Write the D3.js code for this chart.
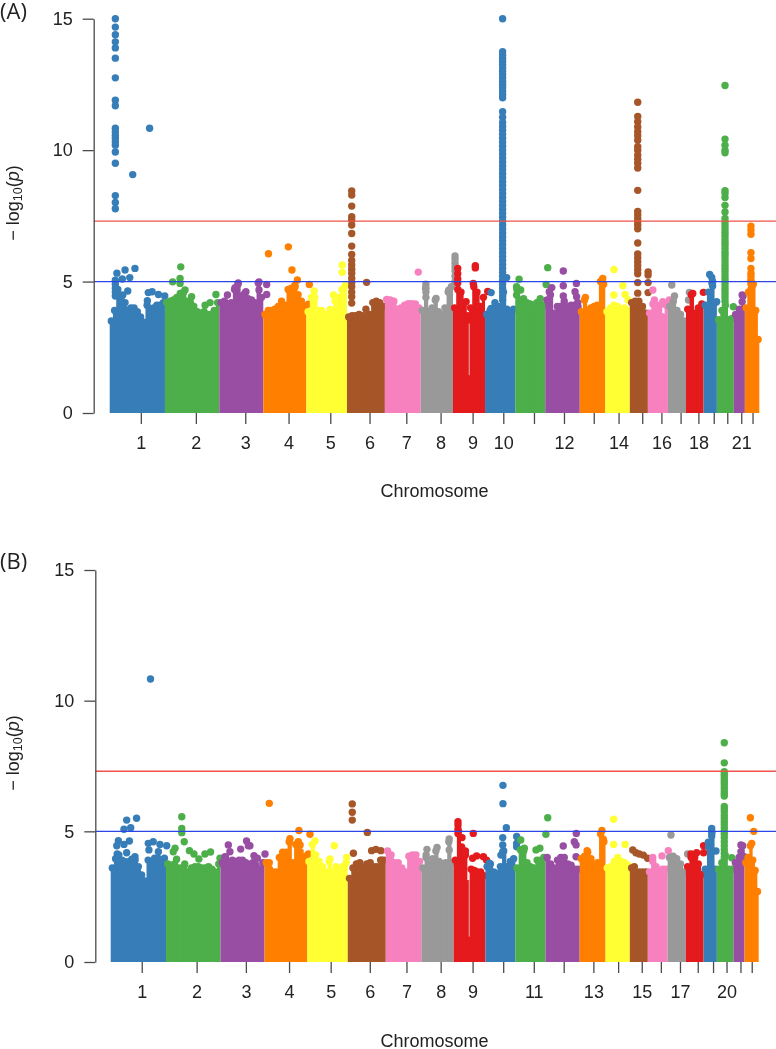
<!DOCTYPE html>
<html><head><meta charset="utf-8">
<script src="https://d3js.org/d3.v7.min.js"></script>
<style>html,body{margin:0;padding:0;background:#fff}svg{display:block;filter:blur(0.3px)}</style>
</head><body><svg id="c" width="776" height="1049"></svg>
<script>
const chromosomes = d3.range(1, 23);
const palette = ["#377EB8","#4DAF4A","#984EA3","#FF7F00","#FFFF33","#A65628","#F781BF","#999999","#E41A1C"];
const yTicks = [0, 5, 10, 15];
const genomeWide = 7.3, suggestive = 5;
const tickMb = [138,382,601,793,978,1152,1315,1467,1609,1745,1881,2014,2146,2256,2361,2446,2531,2610,2678,2738,2800,2850];
const labelledA = [1,2,3,4,5,6,7,8,9,10,12,14,16,18,21];
const labelledB = [1,2,3,4,5,6,7,8,9,11,13,15,17,20];
const edgesA = [0,245,486,681,872,1052,1220,1379,1522,1664,1798,1931,2084,2197,2306,2386,2475,2555,2633,2692,2767,2816,2880];
const edgesB = [0,246,488,684,874,1054,1223,1381,1525,1666,1799,1933,2085,2200,2308,2388,2476,2557,2636,2695,2769,2818,2881];

const skylineA = [
 [3.5,3.9,4.7,4.4,3.95,3.9,4.0,4.0,3.85,3.65,3.45,4.1,3.95,4.0,4.1,4.1,4.2],
 [4.2,4.25,4.3,4.4,4.55,4.6,4.25,4.2,4.05,3.85,3.8,3.85,3.75,3.75,3.9,4.2],
 [4.2,4.25,4.15,4.2,4.7,4.9,4.45,4.55,4.35,4.3,4.2,4.95,4.4],
 [3.75,3.9,3.9,3.95,4.05,4.25,4.1,4.7,4.75,4.85,4.5,4.25,4.05],
 [3.85,4.4,4.4,3.9,3.9,3.75,3.65,3.9,4.25,4.4,4.7,4.85],
 [3.65,3.7,3.7,3.75,3.7,3.95,3.75,4.2,4.25,4.2,4.05],
 [4.32,4.3,4.25,3.95,4.0,4.1,4.16,4.16,4.15,4.0],
 [3.9,4.75,3.85,4.0,4.3,3.85,3.75,4.0,4.6,4.8],
 [4.0,4.7,4.6,4.2,3.7,4.0,4.8,4.6,4.05,4.4],
 [3.75,3.9,4.0,4.05,4.05,4.6,3.95,3.85,3.95],
 [4.7,4.3,4.35,4.2,4.15,4.1,4.2,4.35,4.1],
 [4.3,4.5,3.8,4.05,4.05,4.25,4.05,4.1,4.1,4.05],
 [3.85,4.3,3.9,4.0,4.05,4.1,5.0,4.9],
 [3.85,4.0,4.1,4.05,3.9,4.0,3.9],
 [4.2,4.25,4.25,4.05,3.8],
 [3.8,4.15,4.1,4.1,3.65,4.1],
 [4.05,4.25,3.9,3.75,3.5],
 [3.95,4.5,3.8,4.0,4.15],
 [4.1,4.6,4.95,4.2],
 [3.55,3.9,4.1,3.55,3.6],
 [3.75,3.95,4.45],
 [4.0,4.6,5.0,4.9,3.9,2.8]
];
const skylineB = [
 [3.6,3.95,4.1,3.9,3.84,3.84,3.93,3.9,3.65,3.33,3.1,3.9,3.84,3.97,3.97,3.9,3.97],
 [3.75,3.7,3.75,3.6,3.6,3.75,3.45,3.6,3.65,3.65,3.6,3.6,3.65,3.55,3.45,3.75],
 [3.8,4.0,3.8,3.9,3.85,3.9,3.9,3.8,3.7,3.8,3.7,3.55,3.8],
 [3.8,3.55,3.45,3.45,4.0,4.2,4.2,4.6,3.8,4.5,4.2,3.95,4.05],
 [3.85,4.5,4.1,3.85,3.65,3.45,3.85,3.45,3.65,3.45,3.65,3.8],
 [3.2,3.6,3.75,3.8,3.6,3.75,3.8,3.65,3.65,3.9,3.9],
 [4.25,4.1,3.8,3.8,3.6,3.45,4.05,4.1,4.1,3.85],
 [3.6,4.1,3.75,3.95,4.25,3.85,3.75,3.8,4.6,3.8],
 [3.9,5.0,4.4,4.15,3.0,3.55,3.5,3.45,3.45,3.3],
 [3.65,3.75,3.45,3.4,3.65,4.25,3.65,3.85,3.95],
 [3.6,4.3,4.25,3.8,3.65,3.6,3.9,3.9,4.0],
 [4.0,3.75,3.6,3.9,4.0,4.0,3.75,3.7,3.55,3.55],
 [3.95,4.05,4.2,3.95,3.7,3.8,4.9,4.6],
 [3.6,3.65,3.85,4.0,3.85,3.8,3.7],
 [3.6,3.45,3.45,3.45,3.45],
 [3.45,3.85,3.65,3.45,3.55,3.55],
 [4.0,4.05,3.95,3.75,3.45],
 [3.65,4.0,4.0,3.75,3.35],
 [3.55,4.4,4.95,3.55],
 [3.55,3.8,4.1,3.55,3.55],
 [3.8,4.0,4.45],
 [3.8,4.0,4.45,3.9,3.5,2.7]
];

const chr1TopA = [15,14.68,14.39,14.12,13.89,13.5,12.75,11.9,11.69,10.83,10.7,10.57,10.45,10.32,10.19,9.93,9.5,8.27,8.01,7.77,5.05,4.9,4.75,4.6,4.45];
const chr6StripA = [8.45,8.29,7.87,7.47,7.34,7.15,6.83,6.35,6.03,5.8,5.63,5.47,5.32,5.13,4.96,4.8,4.6,4.42,4.18];
const chr8StripA = [5.97,5.85,5.7,5.55,5.4,5.2,5.0];
const chr10StripA = [15,13.74,13.62,13.5,13.38,13.25,13.12,13,12.88,12.75,12.62,12.5,12.38,12.25,12.12,11.99,11.46,11.25,11.05,10.9,10.76,10.6,10.45,10.3,10.15,10,9.85,9.7,9.55,9.4,9.25,9.1,8.95,8.8,8.65,8.5,8.35,8.2,8.05,7.9,7.75,7.6,7.45,7.3,7.15,7,6.85,6.7,6.55,6.4,6.25,6.1,5.95,5.8,5.65,5.5,5.35,5.2,5.05,4.9,4.75,4.6,4.45,4.3];
const chr15StripA = [11.82,11.28,11.08,10.88,10.7,10.55,10.38,10.13,10,9.81,9.65,9.5,9.32,8.47,7.67,7.53,7.4,7.28,7.15,7.01,6.47,6.05,5.9,5.75,5.6,5.45,5.3,4.96,4.56];
const chr20StripA = [12.46,10.42,10.19,10,9.9,8.46,8.36,8.2,7.9,7.65,7.4,7.25,7.12,7,6.88,6.75,6.62,6.5,6.38,6.25,6.12,6,5.88,5.75,5.62,5.5,5.38,5.25,5.12,5,4.88,4.75,4.62,4.5,4.38,4.25];
const chr22StripA = [7.11,6.96,6.8,6.1,5.88,5.5,5.32,5.2,5.06,4.9,4.7,4.5];
const chr20StripB = [8.39,7.62,7.28,7.18,7.08,6.98,6.88,6.78,6.66,6.55,6.45,6.35,5.95,5.85,5.75,5.62,5.5,5.38,5.25,5.13,5,4.88,4.75,4.6,4.45,4.3,4.15,4];

const hitsA = [
 [[102,9.07],[177,10.83],[32,5.32],[68,5.44],[112,5.5],[56,5.1],[89,5.15],[80,4.64],[171,4.58],[188,4.61],[216,4.51],[244,4.45],[167,4.27],[58,4.49],[68,4.2]],
 [[279,4.99],[312,5.12],[312,4.93],[315,5.56],[334,4.68],[319,4.55],[423,4.1],[445,4.2],[471,4.51],[363,4.42]],
 [[570,4.95],[662,4.99],[696,4.89],[522,4.49],[696,4.51],[662,4.68],[604,4.61],[556,4.77]],
 [[704,6.06],[792,6.32],[808,5.44],[832,5.06],[885,4.89],[822,4.8],[881,4.14]],
 [[1031,5.63],[1031,5.35],[992,4.49],[906,4.64],[977,3.94],[1014,4.17]],
 [[1139,4.97]],
 [[1368,5.36]],
 [[1402,4.9],[1402,4.75],[1402,4.6],[1402,4.4],[1503,4.67],[1447,4.36]],
 [[1543,5.5],[1543,5.3],[1543,5.1],[1543,4.95],[1621,5.6],[1621,5.52],[1612,4.93],[1676,4.62],[1580,4.23]],
 [[1691,4.58],[1708,4.2],[1691,3.98],[1760,5.15]],
 [[1815,5.09],[1822,4.68],[1804,4.8],[1942,5.53],[1935,4.89],[1804,4.49]],
 [[2011,5.4],[2011,4.84],[2069,4.93],[2011,4.45],[1960,4.77],[1949,4.61],[2063,4.61],[2070,4.42],[2075,4.2]],
 [[2186,5.12],[2109,4.4],[2186,4.95]],
 [[2236,5.46],[2275,4.84],[2235,4.49],[2285,4.51],[2298,4.3]],
 [[2387,5.37],[2387,5.25],[2387,4.96],[2387,4.58]],
 [[2408,4.68],[2415,4.3],[2452,4.23],[2481,4.3]],
 [[2492,4.87],[2504,4.45],[2570,4.59],[2566,4.3]],
 [[2585,4.55],[2632,4.59]],
 [[2660,5.27],[2669,5.16],[2673,5],[2673,4.83],[2691,4.23]],
 [[2765,4.04]],
 [[2804,4.49],[2804,4.23]],
 []
];
const hitsB = [
 [[177,10.83],[71,5.43],[115,5.5],[59,5.08],[89,5.14],[34,4.64],[83,4.63],[59,4.5],[27,4.45],[167,4.54],[189,4.6],[219,4.5],[249,4.45],[170,4.29],[71,4.18],[212,4.22],[29,4.13],[108,4.03]],
 [[316,5.56],[316,5.11],[316,4.95],[327,4.6],[286,4.35],[278,4.22],[350,4.26],[370,4.13],[419,4.13],[444,4.21],[392,3.94],[293,3.93],[486,3.97]],
 [[523,4.48],[530,4.22],[508,4.03],[604,4.63],[619,4.45],[578,4.32],[612,4.45],[637,4.07],[686,4.13],[652,3.97]],
 [[705,6.07],[837,5.03],[886,4.89],[834,4.6],[842,4.48],[797,4.72],[842,4.22],[879,4.13],[705,3.8]],
 [[908,4.63],[994,4.45],[975,3.94],[1049,4.0]],
 [[1074,6.05],[1074,5.73],[1074,5.43],[1141,4.96],[1079,4.16],[1160,4.26],[1179,4.31],[1201,4.26],[1205,3.9]],
 [],
 [[1406,4.31],[1451,4.38],[1505,4.71],[1505,4.29],[1402,4.0]],
 [[1544,5.37],[1544,5.24],[1544,5.08],[1544,4.92],[1562,4.76],[1577,4.25],[1577,4.09],[1612,4.92],[1609,3.97],[1627,4.06],[1657,4.03],[1671,3.9]],
 [[1744,6.76],[1744,6.06],[1759,5.14],[1743,4.76],[1743,4.48],[1743,4.22],[1735,4.09],[1805,4.8],[1805,4.54],[1805,4.41],[1683,3.78]],
 [[1823,4.67],[1839,4.35],[1943,5.52],[1935,4.89],[1891,4.29],[1908,4.35]],
 [[2070,4.92],[2012,4.44],[2061,4.6],[2069,4.48],[2069,4.03]],
 [[2184,5.03],[2118,4.26],[2190,4.7]],
 [[2236,5.46],[2236,4.5],[2287,4.5]],
 [[2321,4.29],[2335,4.18],[2350,4.13],[2368,4.09],[2387,3.97],[2328,3.65]],
 [[2410,4.0],[2451,4.06],[2479,4.26]],
 [[2491,4.86],[2565,4.13]],
 [[2580,4.13],[2605,4.18],[2636,4.45],[2636,4.18]],
 [[2672,5.11],[2672,4.99],[2672,4.82],[2657,4.58],[2691,4.25]],
 [[2761,3.99]],
 [[2802,4.48],[2817,4.03],[2802,4.22]],
 [[2844,5.52],[2859,5.0],[2850,4.54]]
];
const stripChrA = [0,5,7,9,14,19,21], stripMbA = [25,1073,1531,1742,2341,2728,2843];
const stripValuesA = [chr1TopA,chr6StripA,chr8StripA,chr10StripA,chr15StripA,chr20StripA,chr22StripA];
const stripChrB = [19], stripMbB = [2728], stripValuesB = [chr20StripB];
const slitMb = 1594, slitRangeA = [1.44,3.4], slitRangeB = [0.97,3.4];

const svg = d3.select("#c");
const R = 3.7;
function panel(o){
  const x = d3.scaleLinear().domain([0, o.edges[22]]).range(o.xRange);
  const y = d3.scaleLinear().domain([0, 15]).range(o.yRange);
  const g = svg.append("g");
  chromosomes.forEach((c, i) => {
    const col = palette[i % palette.length];
    const gc = g.append("g").attr("fill", col);
    const band = d3.scaleBand().domain(d3.range(o.sky[i].length)).range([o.edges[i], o.edges[i+1]]);
    gc.selectAll("rect").data(o.sky[i]).join("rect")
      .attr("x", (d,k) => x(band(k)))
      .attr("width", (d,k) => x(band(k)+band.bandwidth()) - x(band(k)) + (k < o.sky[i].length-1 ? 1 : 0))
      .attr("y", d => y(d)).attr("height", d => y(0) - y(d));
    gc.selectAll("circle.t").data(o.sky[i]).join("circle").attr("class","t")
      .attr("cx", (d,k) => x(band(k)+band.bandwidth()/2))
      .attr("cy", d => y(d)).attr("r", R);
    gc.selectAll("circle.h").data(o.hits[i]).join("circle").attr("class","h")
      .attr("cx", d => x(d[0])).attr("cy", d => y(d[1])).attr("r", R);
    o.stripChr.forEach((s, k) => {
      if (s !== i) return;
      gc.selectAll("circle.s").data(o.stripVals[k]).join("circle").attr("class","s")
        .attr("cx", x(o.stripMb[k])).attr("cy", d => y(d)).attr("r", R);
    });
    if (i === 8) g.append("line").attr("x1", x(slitMb)).attr("x2", x(slitMb))
      .attr("y1", y(o.slit[0])).attr("y2", y(o.slit[1]))
      .attr("stroke", "#f4b0ae").attr("stroke-width", 1);
  });
  const lines = g.append("g");
  [[genomeWide,"#f0524a"],[suggestive,"#2b45e8"]].forEach(([v,c]) => {
    lines.append("line").attr("x1", o.axisX).attr("x2", 776)
      .attr("y1", y(v)).attr("y2", y(v)).attr("stroke", c).attr("stroke-width", 1.3);
  });
  const ya = svg.append("g").attr("transform", `translate(${o.axisX},0)`)
    .call(d3.axisLeft(y).tickValues(yTicks).tickSize(11).tickSizeOuter(0).tickPadding(10));
  const xa = svg.append("g").attr("transform", `translate(0,${o.yRange[0]})`)
    .call(d3.axisBottom(x).tickValues(tickMb).tickSize(11).tickPadding(12)
      .tickFormat((d,i) => o.labelled.includes(i+1) ? String(i+1) : ""));
  xa.select(".domain").remove();
  [ya, xa].forEach(a => {
    a.selectAll(".domain,.tick line").attr("stroke", "#4a4a4a").attr("stroke-width", 1.3);
    a.selectAll("text").attr("font-family", "'Liberation Sans',Arial,sans-serif")
      .attr("font-size", 18).attr("fill", "#222");
  });
  svg.append("text").attr("x", o.xTitleX).attr("y", o.xTitleY).attr("text-anchor","middle")
    .attr("font-family","'Liberation Sans',Arial,sans-serif").attr("font-size",18).attr("fill","#222")
    .text("Chromosome");
  const yl = svg.append("text").attr("transform",`translate(${o.yLabelX},${o.yLabelY}) rotate(-90)`)
    .attr("text-anchor","middle").attr("font-family","'Liberation Sans',Arial,sans-serif")
    .attr("font-size",18).attr("fill","#222");
  yl.append("tspan").text("\u2212 log");
  yl.append("tspan").attr("font-size",12.5).attr("dy",3.5).text("10");
  yl.append("tspan").attr("dy",-3.5).text("(");
  yl.append("tspan").attr("font-style","italic").text("p");
  yl.append("tspan").text(")");
  svg.append("text").attr("x",0).attr("y",o.tagY).attr("font-family","'Open Sans',sans-serif")
    .attr("font-size",22).attr("fill","#222").text(o.tag);
}
panel({edges:edgesA, xRange:[109.7,759.3], yRange:[413,18.7], sky:skylineA, hits:hitsA,
  stripChr:stripChrA, stripMb:stripMbA, stripVals:stripValuesA, slit:slitRangeA, labelled:labelledA,
  axisX:93.7, xTitleX:434.5, xTitleY:497, yLabelX:18.5, yLabelY:203, tag:"(A)", tagY:19});
panel({edges:edgesB, xRange:[110.7,758.7], yRange:[962,570], sky:skylineB, hits:hitsB,
  stripChr:stripChrB, stripMb:stripMbB, stripVals:stripValuesB, slit:slitRangeB, labelled:labelledB,
  axisX:95.3, xTitleX:434.5, xTitleY:1046.5, yLabelX:18.5, yLabelY:753, tag:"(B)", tagY:569});
</script></body></html>
